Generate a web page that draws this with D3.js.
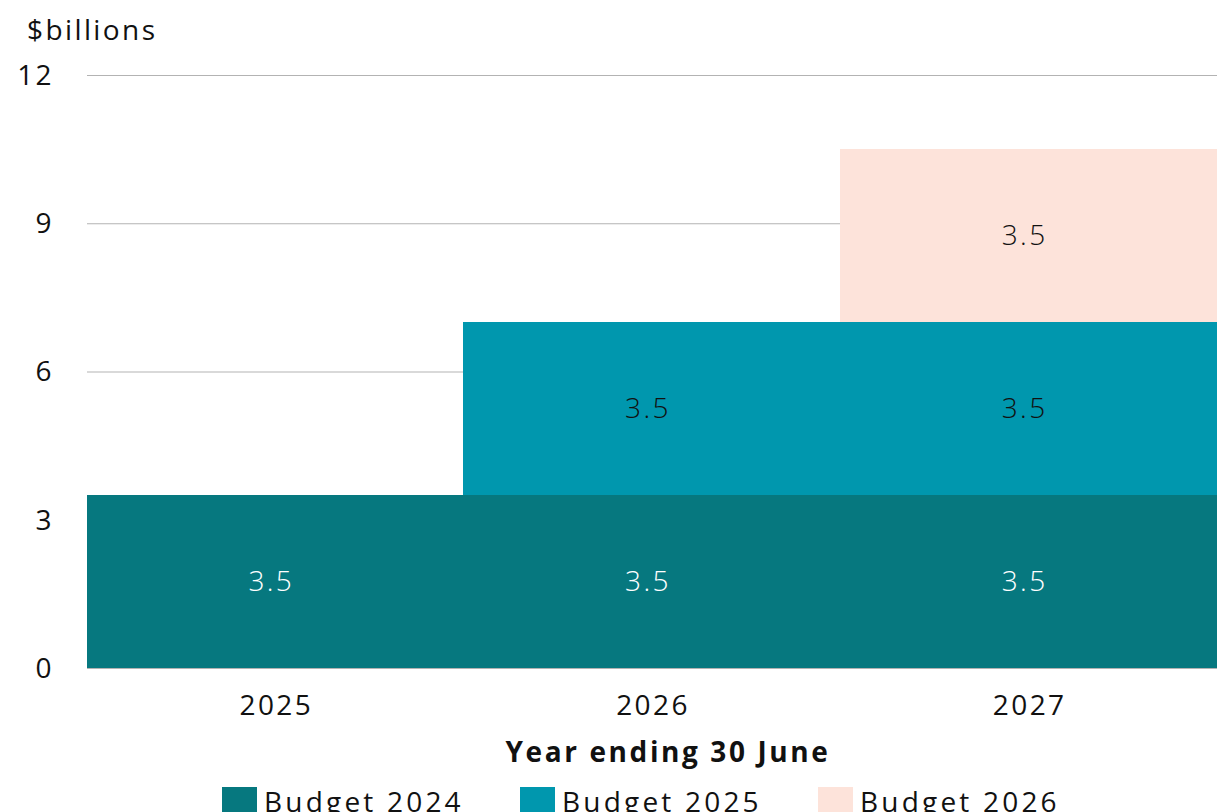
<!DOCTYPE html>
<html lang="en">

<head>
    <meta charset="UTF-8" />
    <title>Budget chart</title>
    <style>
        body { margin: 0; background: #fff; }
        svg text { font-family: "Open Sans", "DejaVu Sans", sans-serif; fill: #111; font-size: 28px; letter-spacing: 2.4px; }
    </style>
</head>

<body>
    <div id="container"></div>
</body>
<script src="https://cdnjs.cloudflare.com/ajax/libs/d3/7.8.5/d3.min.js"></script>
<script>
    // data
    const years = ['2025', '2026', '2027']
    const seriesNames = ['Budget 2024', 'Budget 2025', 'Budget 2026']
    const budget2024 = [3.5, 3.5, 3.5]
    const budget2025 = [0, 3.5, 3.5]
    const budget2026 = [0, 0, 3.5]
    const yTicks = [0, 3, 6, 9, 12]
    const colors = ['#06787f', '#0097ae', '#fde3da']
    const labelColors = ['#fff', '#111', '#111']

    const W = 1217, H = 812
    const m = { left: 87, right: 0, top: 75, bottom: 144 }

    let rows = years.map((y, i) => ({ year: y, s0: budget2024[i], s1: budget2025[i], s2: budget2026[i] }))
    let stack = d3.stack().keys(['s0', 's1', 's2'])(rows)

    let x = d3.scaleBand().domain(years).range([m.left, W - m.right]).padding(0)
    let y = d3.scaleLinear().domain([0, 12]).range([H - m.bottom, m.top])

    let svg = d3.select('#container').append('svg').attr('width', W).attr('height', H)

    // gridlines
    svg.append('g').selectAll('line').data(yTicks).enter().append('line')
        .attr('x1', m.left).attr('x2', W - m.right)
        .attr('y1', d => y(d) + 0.5).attr('y2', d => y(d) + 0.5)
        .attr('stroke', '#b3b3b3').attr('stroke-width', 1)

    // y tick labels
    svg.append('g').selectAll('text').data(yTicks).enter().append('text')
        .attr('x', 54).attr('y', d => y(d)).attr('dy', '0.35em')
        .attr('text-anchor', 'end')
        .text(d => d)

    svg.append('text').attr('x', 27).attr('y', 40).text('$billions')

    // bars (snapped so no seams show)
    let layers = svg.append('g').attr('shape-rendering', 'crispEdges').selectAll('g').data(stack).enter().append('g')
        .attr('fill', (d, i) => colors[i])
    layers.selectAll('rect').data(d => d.filter(p => p[1] > p[0])).enter().append('rect')
        .attr('x', d => Math.floor(x(d.data.year)))
        .attr('y', d => Math.round(y(d[1])))
        .attr('width', x.bandwidth() + 1)
        .attr('height', d => Math.round(y(d[0])) - Math.round(y(d[1])))

    // value labels
    stack.forEach((layer, li) => {
        svg.append('g').selectAll('text').data(layer.filter(p => p[1] > p[0])).enter().append('text')
            .attr('x', d => x(d.data.year) + x.bandwidth() / 2 - 4)
            .attr('y', d => y((d[0] + d[1]) / 2))
            .attr('dy', '0.35em').attr('text-anchor', 'middle')
            .style('font-weight', 300)
            .style('fill', labelColors[li])
            .text(d => (d[1] - d[0]).toFixed(1))
    })

    // x axis labels
    svg.append('g').selectAll('text').data(years).enter().append('text')
        .attr('x', d => x(d) + x.bandwidth() / 2 + 1)
        .attr('y', 705).attr('dy', '0.35em').attr('text-anchor', 'middle')
        .text(d => d)

    svg.append('text').attr('x', 668).attr('y', 752).attr('dy', '0.35em')
        .attr('text-anchor', 'middle').style('font-weight', 'bold').style('letter-spacing', '2.6px')
        .text('Year ending 30 June')

    // legend
    let leg = svg.append('g').selectAll('g').data(seriesNames).enter().append('g')
        .attr('transform', (d, i) => `translate(${222 + i * 298}, 787)`)
    leg.append('rect').attr('width', 35).attr('height', 35).attr('fill', (d, i) => colors[i])
    leg.append('text').attr('x', 42).attr('y', 25).style('letter-spacing', '3.2px').text(d => d)
</script>

</html>
